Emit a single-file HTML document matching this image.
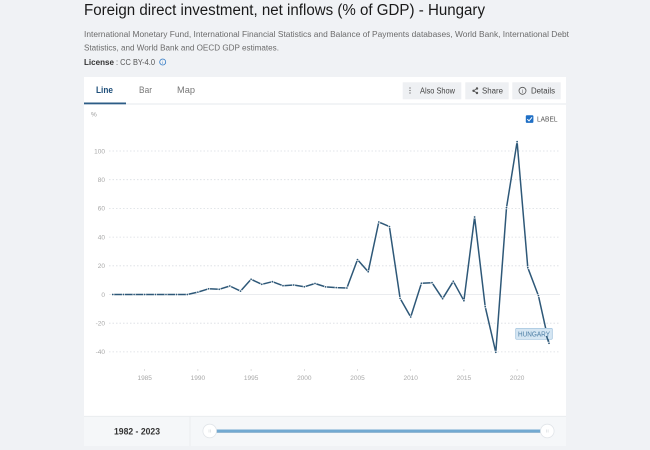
<!DOCTYPE html>
<html><head><meta charset="utf-8"><style>
html,body{margin:0;padding:0;background:#f0f2f5;}
svg{display:block;}
text{font-family:"Liberation Sans",sans-serif;}
</style></head><body>
<svg width="650" height="450" viewBox="0 0 650 450" xmlns="http://www.w3.org/2000/svg">
<rect x="0" y="0" width="650" height="450" fill="#f0f2f5"/>
<!-- header -->
<text x="84" y="15" font-size="15.5" fill="#1a1a1a" textLength="401" lengthAdjust="spacingAndGlyphs">Foreign direct investment, net inflows (% of GDP) - Hungary</text>
<text x="84" y="37" font-size="8.6" fill="#6b6b6b" textLength="485" lengthAdjust="spacingAndGlyphs">International Monetary Fund, International Financial Statistics and Balance of Payments databases, World Bank, International Debt</text>
<text x="84" y="50.5" font-size="8.6" fill="#6b6b6b" textLength="195" lengthAdjust="spacingAndGlyphs">Statistics, and World Bank and OECD GDP estimates.</text>
<text x="84" y="65" font-size="8.6" fill="#333" font-weight="bold" textLength="30" lengthAdjust="spacingAndGlyphs">License</text>
<text x="116" y="65" font-size="8.6" fill="#555" textLength="39" lengthAdjust="spacingAndGlyphs">: CC BY-4.0</text>
<circle cx="162.7" cy="62" r="3" fill="none" stroke="#2f78c4" stroke-width="0.8"/>
<text x="162.7" y="63.8" font-size="4.5" fill="#2f78c4" text-anchor="middle">i</text>

<!-- card -->
<rect x="84" y="77" width="482" height="369" fill="#ffffff"/>
<line x1="84" y1="104" x2="566" y2="104" stroke="#e6e9ed" stroke-width="1"/>
<rect x="84" y="102.5" width="42" height="1.8" fill="#2c5c86"/>
<text x="96" y="93" font-size="9.5" fill="#1e4f7a" font-weight="bold" textLength="17" lengthAdjust="spacingAndGlyphs">Line</text>
<text x="139" y="93" font-size="9.5" fill="#777" textLength="13" lengthAdjust="spacingAndGlyphs">Bar</text>
<text x="177" y="93" font-size="9.5" fill="#777" textLength="18" lengthAdjust="spacingAndGlyphs">Map</text>

<!-- buttons -->
<rect x="402.7" y="82.3" width="58.6" height="17" fill="#eef0f3"/>
<rect x="465.3" y="82.3" width="43.4" height="17" fill="#eef0f3"/>
<rect x="512.3" y="82.3" width="48.4" height="17" fill="#eef0f3"/>
<g fill="#555"><circle cx="410" cy="88" r="0.6"/><circle cx="410" cy="90.5" r="0.6"/><circle cx="410" cy="93" r="0.6"/></g>
<text x="420" y="93.5" font-size="8" fill="#444" textLength="35" lengthAdjust="spacingAndGlyphs">Also Show</text>
<g stroke="#555" stroke-width="0.8" fill="#555"><line x1="477" y1="88.5" x2="473.5" y2="90.8"/><line x1="473.5" y1="90.8" x2="477" y2="93"/><circle cx="477" cy="88.5" r="0.8"/><circle cx="473.5" cy="90.8" r="0.8"/><circle cx="477" cy="93" r="0.8"/></g>
<text x="482" y="93.5" font-size="8" fill="#444" textLength="21" lengthAdjust="spacingAndGlyphs">Share</text>
<circle cx="522.5" cy="90.8" r="3.5" fill="none" stroke="#555" stroke-width="0.8"/>
<text x="522.5" y="93" font-size="5" fill="#555" text-anchor="middle">i</text>
<text x="531" y="93.5" font-size="8" fill="#444" textLength="24" lengthAdjust="spacingAndGlyphs">Details</text>

<!-- label checkbox -->
<rect x="525.8" y="115.3" width="7.6" height="7.6" rx="1" fill="#1f6fc5"/>
<polyline points="527.3,119.2 529,120.9 532,117.3" fill="none" stroke="#fff" stroke-width="1"/>
<text x="537" y="121.7" font-size="7.5" fill="#555" textLength="20.5" lengthAdjust="spacingAndGlyphs">LABEL</text>

<!-- axis unit -->
<text x="91" y="116.5" font-size="6.5" fill="#999">%</text>

<!-- gridlines -->
<g stroke="#d9dde2" stroke-width="0.8" stroke-dasharray="1.5,2">
<line x1="109" y1="151" x2="560" y2="151"/>
<line x1="109" y1="179.7" x2="560" y2="179.7"/>
<line x1="109" y1="208.4" x2="560" y2="208.4"/>
<line x1="109" y1="237.1" x2="560" y2="237.1"/>
<line x1="109" y1="265.8" x2="560" y2="265.8"/>
<line x1="109" y1="323.2" x2="560" y2="323.2"/>
<line x1="109" y1="351.9" x2="560" y2="351.9"/>
</g>
<line x1="109" y1="294.5" x2="560" y2="294.5" stroke="#e3e6ea" stroke-width="0.8"/>

<!-- y labels -->
<g font-size="6.5" fill="#a8a8a8" text-anchor="end">
<text x="105" y="153.3">100</text>
<text x="105" y="182">80</text>
<text x="105" y="210.7">60</text>
<text x="105" y="239.4">40</text>
<text x="105" y="268.1">20</text>
<text x="105" y="296.8">0</text>
<text x="105" y="325.5">-20</text>
<text x="105" y="354.2">-40</text>
</g>

<!-- x ticks & labels -->
<g stroke="#ccc" stroke-width="0.6">
<line x1="144.7" y1="369" x2="144.7" y2="371"/>
<line x1="197.9" y1="369" x2="197.9" y2="371"/>
<line x1="251.1" y1="369" x2="251.1" y2="371"/>
<line x1="304.3" y1="369" x2="304.3" y2="371"/>
<line x1="357.5" y1="369" x2="357.5" y2="371"/>
<line x1="410.7" y1="369" x2="410.7" y2="371"/>
<line x1="463.9" y1="369" x2="463.9" y2="371"/>
<line x1="517.1" y1="369" x2="517.1" y2="371"/>
</g>
<g font-size="6.5" fill="#a8a8a8" text-anchor="middle">
<text x="144.7" y="380">1985</text>
<text x="197.9" y="380">1990</text>
<text x="251.1" y="380">1995</text>
<text x="304.3" y="380">2000</text>
<text x="357.5" y="380">2005</text>
<text x="410.7" y="380">2010</text>
<text x="463.9" y="380">2015</text>
<text x="517.1" y="380">2020</text>
</g>

<!-- series -->
<polyline fill="none" stroke="#2e5878" stroke-width="1.5" stroke-linejoin="round" points="112.8,294.5 123.4,294.5 134.1,294.5 144.7,294.5 155.4,294.5 166.0,294.5 176.6,294.5 187.3,294.5 197.9,292.1 208.6,288.8 219.2,289.3 229.8,286.0 240.5,291.1 251.1,279.3 261.8,284.3 272.4,281.7 283.0,285.7 293.7,285.0 304.3,286.8 315.0,283.5 325.6,286.9 336.2,287.6 346.9,288.0 357.5,259.6 368.2,271.7 378.8,222.0 389.4,226.6 400.1,298.4 410.7,317.0 421.4,283.3 432.0,282.7 442.6,298.7 453.3,281.3 463.9,300.7 474.6,217.0 485.2,306.7 495.8,352.3 506.5,207.7 517.1,141.7 527.8,267.7 538.4,295.6 549.0,343.3"/>

<!-- label box -->
<rect x="515.7" y="328.3" width="36.6" height="11" fill="#d5e6f3" stroke="#9dc0dc" stroke-width="0.7" rx="1"/>
<text x="534" y="336.6" font-size="7" fill="#4a7ca3" text-anchor="middle" textLength="32" lengthAdjust="spacingAndGlyphs">HUNGARY</text>
<line x1="546.5" y1="336" x2="549" y2="343.3" stroke="#2e5878" stroke-width="1.5"/>

<g fill="#2e5878" stroke="#ffffff" stroke-width="0.6">
<circle cx="112.8" cy="294.5" r="1.2"/><circle cx="123.4" cy="294.5" r="1.2"/><circle cx="134.1" cy="294.5" r="1.2"/><circle cx="144.7" cy="294.5" r="1.2"/><circle cx="155.4" cy="294.5" r="1.2"/><circle cx="166.0" cy="294.5" r="1.2"/><circle cx="176.6" cy="294.5" r="1.2"/><circle cx="187.3" cy="294.5" r="1.2"/><circle cx="197.9" cy="292.1" r="1.2"/><circle cx="208.6" cy="288.8" r="1.2"/><circle cx="219.2" cy="289.3" r="1.2"/><circle cx="229.8" cy="286.0" r="1.2"/><circle cx="240.5" cy="291.1" r="1.2"/><circle cx="251.1" cy="279.3" r="1.2"/><circle cx="261.8" cy="284.3" r="1.2"/><circle cx="272.4" cy="281.7" r="1.2"/><circle cx="283.0" cy="285.7" r="1.2"/><circle cx="293.7" cy="285.0" r="1.2"/><circle cx="304.3" cy="286.8" r="1.2"/><circle cx="315.0" cy="283.5" r="1.2"/><circle cx="325.6" cy="286.9" r="1.2"/><circle cx="336.2" cy="287.6" r="1.2"/><circle cx="346.9" cy="288.0" r="1.2"/><circle cx="357.5" cy="259.6" r="1.2"/><circle cx="368.2" cy="271.7" r="1.2"/><circle cx="378.8" cy="222.0" r="1.2"/><circle cx="389.4" cy="226.6" r="1.2"/><circle cx="400.1" cy="298.4" r="1.2"/><circle cx="410.7" cy="317.0" r="1.2"/><circle cx="421.4" cy="283.3" r="1.2"/><circle cx="432.0" cy="282.7" r="1.2"/><circle cx="442.6" cy="298.7" r="1.2"/><circle cx="453.3" cy="281.3" r="1.2"/><circle cx="463.9" cy="300.7" r="1.2"/><circle cx="474.6" cy="217.0" r="1.2"/><circle cx="485.2" cy="306.7" r="1.2"/><circle cx="495.8" cy="352.3" r="1.2"/><circle cx="506.5" cy="207.7" r="1.2"/><circle cx="517.1" cy="141.7" r="1.2"/><circle cx="527.8" cy="267.7" r="1.2"/><circle cx="538.4" cy="295.6" r="1.2"/><circle cx="549.0" cy="343.3" r="1.2"/>
</g>

<!-- bottom range band -->
<rect x="84" y="416" width="482" height="30" fill="#f5f7f9"/>
<line x1="84" y1="416.3" x2="566" y2="416.3" stroke="#e8ebee" stroke-width="0.8"/>
<line x1="190" y1="416" x2="190" y2="446" stroke="#e8ebee" stroke-width="0.8"/>
<text x="137" y="434.5" font-size="9.5" fill="#333" font-weight="bold" text-anchor="middle" textLength="46" lengthAdjust="spacingAndGlyphs">1982 - 2023</text>
<line x1="213" y1="431" x2="544" y2="431" stroke="#72a9d1" stroke-width="3"/>
<line x1="213" y1="432.3" x2="544" y2="432.3" stroke="#5b93bd" stroke-width="0.6"/>
<circle cx="209.7" cy="431" r="6.8" fill="#ffffff" stroke="#e1e5e9" stroke-width="0.8"/>
<circle cx="547.3" cy="431" r="6.8" fill="#ffffff" stroke="#e1e5e9" stroke-width="0.8"/>
<g stroke="#d4d8dc" stroke-width="0.6">
<line x1="209" y1="429.5" x2="209" y2="432.5"/><line x1="210.5" y1="429.5" x2="210.5" y2="432.5"/>
<line x1="546.6" y1="429.5" x2="546.6" y2="432.5"/><line x1="548.1" y1="429.5" x2="548.1" y2="432.5"/>
</g>
</svg>
</body></html>
